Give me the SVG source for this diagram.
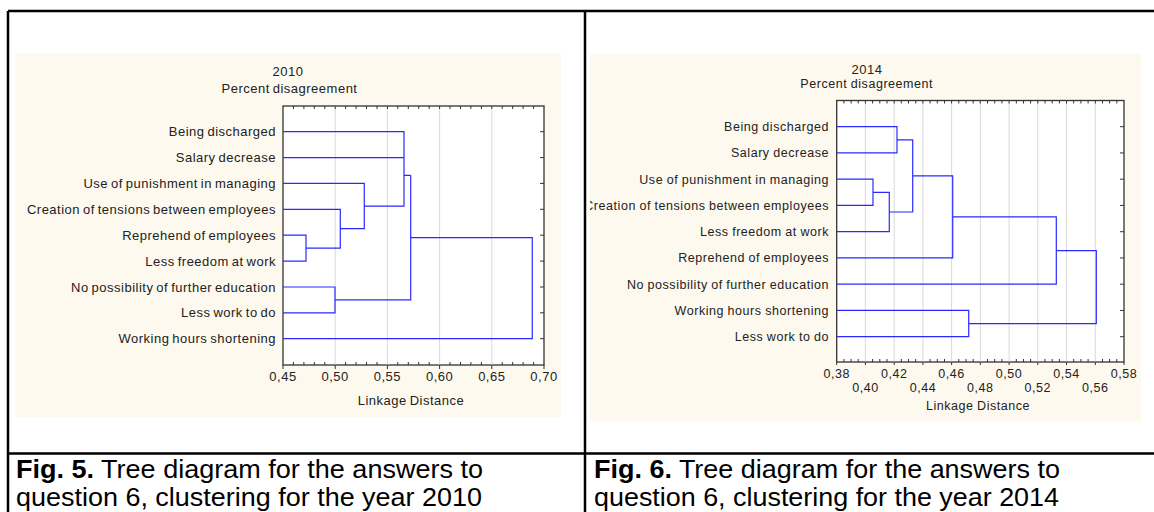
<svg xmlns="http://www.w3.org/2000/svg" width="1154" height="512" viewBox="0 0 1154 512">
<style>
.bg{fill:#fdf9ee}
.frame{fill:#fff;stroke:#333;stroke-width:1.3}
.grid{stroke:#d9d9d9;stroke-width:1;fill:none}
.tick{stroke:#333;stroke-width:1;fill:none}
.link{stroke:#2a2aff;stroke-width:1.2;fill:none}
.tbl{stroke:#000;stroke-width:2.5;fill:none}
.lbl{font-family:"Liberation Sans",Arial,sans-serif;font-size:13px;fill:#222;letter-spacing:0.5px;word-spacing:-1.2px}
.lbl2{font-family:"Liberation Sans",Arial,sans-serif;font-size:12.5px;fill:#222;letter-spacing:0.55px;word-spacing:-0.5px}
.end{text-anchor:end}
.mid{text-anchor:middle}
.cap{font-family:"Liberation Sans",Arial,sans-serif;font-size:25px;fill:#000}
.b{font-weight:bold}
</style>
<defs>
<clipPath id="clipR"><rect x="590" y="54" width="551" height="367"/></clipPath>
</defs>

<g id="table">
<path class="tbl" d="M8 11 H1154 M8 11 V512 M585 11 V512 M8 453.5 H1154"/>
</g>

<!-- Left chart 2010 -->
<g id="chart2010">
<rect class="bg" x="15" y="53" width="546" height="364"/>
<text class="lbl mid" x="288" y="76">2010</text>
<text class="lbl mid" x="289.5" y="93">Percent disagreement</text>
<rect class="frame" x="283" y="106" width="261" height="259"/>
<path class="grid" d="M335.2 106.5 V364.5 M387.4 106.5 V364.5 M439.6 106.5 V364.5 M491.8 106.5 V364.5"/>
<path class="tick" d="M293.4 106v3 M303.9 106v3 M314.3 106v3 M324.8 106v3 M335.2 106v3 M345.6 106v3 M356.1 106v3 M366.5 106v3 M377 106v3 M387.4 106v3 M397.8 106v3 M408.3 106v3 M418.7 106v3 M429.2 106v3 M439.6 106v3 M450 106v3 M460.5 106v3 M470.9 106v3 M481.4 106v3 M491.8 106v3 M502.2 106v3 M512.7 106v3 M523.1 106v3 M533.6 106v3
M293.4 365v-3 M303.9 365v-3 M314.3 365v-3 M324.8 365v-3 M345.6 365v-3 M356.1 365v-3 M366.5 365v-3 M377 365v-3 M397.8 365v-3 M408.3 365v-3 M418.7 365v-3 M429.2 365v-3 M450 365v-3 M460.5 365v-3 M470.9 365v-3 M481.4 365v-3 M502.2 365v-3 M512.7 365v-3 M523.1 365v-3 M533.6 365v-3
M283 365v4 M335.2 365v4 M387.4 365v4 M439.6 365v4 M491.8 365v4 M544 365v4
M544 131.7h-4 M544 157.6h-4 M544 183.4h-4 M544 209.3h-4 M544 235.2h-4 M544 261.1h-4 M544 287h-4 M544 312.8h-4 M544 338.7h-4"/>
<g id="axis2010">
<text class="lbl mid" x="283" y="381">0,45</text>
<text class="lbl mid" x="335.2" y="381">0,50</text>
<text class="lbl mid" x="387.4" y="381">0,55</text>
<text class="lbl mid" x="439.6" y="381">0,60</text>
<text class="lbl mid" x="491.8" y="381">0,65</text>
<text class="lbl mid" x="544" y="381">0,70</text>
<text class="lbl mid" x="411" y="404.5">Linkage Distance</text>
</g>
<g id="L1"><text class="lbl end" x="276" y="136.2">Being discharged</text></g>
<g id="L2"><text class="lbl end" x="276" y="162.1">Salary decrease</text></g>
<g id="L3"><text class="lbl end" x="276" y="187.9">Use of punishment in managing</text></g>
<g id="L4"><text class="lbl end" x="276" y="213.8">Creation of tensions between employees</text></g>
<g id="L5"><text class="lbl end" x="276" y="239.7">Reprehend of employees</text></g>
<g id="L6"><text class="lbl end" x="276" y="265.6">Less freedom at work</text></g>
<g id="L7"><text class="lbl end" x="276" y="291.5">No possibility of further education</text></g>
<g id="L8"><text class="lbl end" x="276" y="317.3">Less work to do</text></g>
<g id="L9"><text class="lbl end" x="276" y="343.2">Working hours shortening</text></g>
<g id="links2010">
<path class="link" d="M283 131.7 H404 V157.6 H283
M283 235.2 H306 V261.1 H283
M306 248.15 H340.3 V209.3 H283
M340.3 228.7 H364.3 V183.4 H283
M404 144.65 V206.05 H364.3
M404 175.35 H410.7
M283 287 H335 V312.8 H283
M335 299.9 H410.7 V175.35
M410.7 237.6 H532.3 V338.7 H283"/>
</g>
</g>

<!-- Right chart 2014 -->
<g id="chart2014">
<rect class="bg" x="590" y="54" width="551" height="367"/>
<text class="lbl mid" x="867" y="74">2014</text>
<text class="lbl2 mid" x="866.7" y="87.5">Percent disagreement</text>
<rect class="frame" x="836.7" y="100.5" width="287.3" height="261.5"/>
<path class="grid" d="M865.4 101 V361.5 M894.2 101 V361.5 M922.9 101 V361.5 M951.6 101 V361.5 M980.3 101 V361.5 M1009.1 101 V361.5 M1037.8 101 V361.5 M1066.5 101 V361.5 M1095.3 101 V361.5"/>
<path class="tick" d="M843.9 100.5v3 M851.1 100.5v3 M858.2 100.5v3 M865.4 100.5v3 M872.6 100.5v3 M879.8 100.5v3 M887 100.5v3 M894.2 100.5v3 M901.3 100.5v3 M908.5 100.5v3 M915.7 100.5v3 M922.9 100.5v3 M930.1 100.5v3 M937.3 100.5v3 M944.5 100.5v3 M951.6 100.5v3 M958.8 100.5v3 M966 100.5v3 M973.2 100.5v3 M980.3 100.5v3 M987.5 100.5v3 M994.7 100.5v3 M1001.9 100.5v3 M1009.1 100.5v3 M1016.3 100.5v3 M1023.5 100.5v3 M1030.6 100.5v3 M1037.8 100.5v3 M1045 100.5v3 M1052.2 100.5v3 M1059.4 100.5v3 M1066.5 100.5v3 M1073.7 100.5v3 M1080.9 100.5v3 M1088.1 100.5v3 M1095.3 100.5v3 M1102.5 100.5v3 M1109.6 100.5v3 M1116.8 100.5v3
M843.9 362v-3 M851.1 362v-3 M858.2 362v-3 M872.6 362v-3 M879.8 362v-3 M887 362v-3 M901.3 362v-3 M908.5 362v-3 M915.7 362v-3 M930.1 362v-3 M937.3 362v-3 M944.5 362v-3 M958.8 362v-3 M966 362v-3 M973.2 362v-3 M987.5 362v-3 M994.7 362v-3 M1001.9 362v-3 M1016.3 362v-3 M1023.5 362v-3 M1030.6 362v-3 M1045 362v-3 M1052.2 362v-3 M1059.4 362v-3 M1073.7 362v-3 M1080.9 362v-3 M1088.1 362v-3 M1102.5 362v-3 M1109.6 362v-3 M1116.8 362v-3
M836.7 362v3 M865.4 362v3 M894.2 362v3 M922.9 362v3 M951.6 362v3 M980.3 362v3 M1009.1 362v3 M1037.8 362v3 M1066.5 362v3 M1095.3 362v3 M1124 362v3
M1124 126.7h-4 M1124 152.95h-4 M1124 179.2h-4 M1124 205.45h-4 M1124 231.7h-4 M1124 257.95h-4 M1124 284.2h-4 M1124 310.45h-4 M1124 336.7h-4"/>
<g id="axis2014">
<text class="lbl2 mid" x="836.7" y="378">0,38</text>
<text class="lbl2 mid" x="894.2" y="378">0,42</text>
<text class="lbl2 mid" x="951.6" y="378">0,46</text>
<text class="lbl2 mid" x="1009.1" y="378">0,50</text>
<text class="lbl2 mid" x="1066.5" y="378">0,54</text>
<text class="lbl2 mid" x="1124" y="378">0,58</text>
<text class="lbl2 mid" x="865.4" y="392">0,40</text>
<text class="lbl2 mid" x="922.9" y="392">0,44</text>
<text class="lbl2 mid" x="980.3" y="392">0,48</text>
<text class="lbl2 mid" x="1037.8" y="392">0,52</text>
<text class="lbl2 mid" x="1095.3" y="392">0,56</text>
<text class="lbl2 mid" x="978" y="410">Linkage Distance</text>
</g>
<g clip-path="url(#clipR)">
<g id="R1"><text class="lbl2 end" x="829" y="131.1">Being discharged</text></g>
<g id="R2"><text class="lbl2 end" x="829" y="157.4">Salary decrease</text></g>
<g id="R3"><text class="lbl2 end" x="829" y="183.6">Use of punishment in managing</text></g>
<g id="R4"><text class="lbl2 end" x="829" y="209.9">Creation of tensions between employees</text></g>
<g id="R5"><text class="lbl2 end" x="829" y="236.1">Less freedom at work</text></g>
<g id="R6"><text class="lbl2 end" x="829" y="262.4">Reprehend of employees</text></g>
<g id="R7"><text class="lbl2 end" x="829" y="288.6">No possibility of further education</text></g>
<g id="R8"><text class="lbl2 end" x="829" y="314.9">Working hours shortening</text></g>
<g id="R9"><text class="lbl2 end" x="829" y="341.1">Less work to do</text></g>
</g>
<g id="links2014">
<path class="link" d="M836.7 179.2 H873 V205.45 H836.7
M873 192.3 H889.3 V231.7 H836.7
M836.7 126.7 H897 V152.95 H836.7
M897 139.8 H912.7 V212 H889.3
M912.7 175.9 H952.7 V257.95 H836.7
M952.7 216.9 H1056.3 V284.2 H836.7
M836.7 310.45 H968.7 V336.7 H836.7
M968.7 323.6 H1096.3 V250.55 H1056.3"/>
</g>
</g>

<g id="captions">
<text class="cap" x="16" y="478" textLength="467" lengthAdjust="spacingAndGlyphs"><tspan class="b">Fig. 5.</tspan> Tree diagram for the answers to</text>
<text class="cap" x="16" y="506" textLength="466" lengthAdjust="spacingAndGlyphs">question 6, clustering for the year 2010</text>
<text class="cap" x="594" y="478" textLength="466" lengthAdjust="spacingAndGlyphs"><tspan class="b">Fig. 6.</tspan> Tree diagram for the answers to</text>
<text class="cap" x="594" y="506" textLength="465" lengthAdjust="spacingAndGlyphs">question 6, clustering for the year 2014</text>
</g>
</svg>
